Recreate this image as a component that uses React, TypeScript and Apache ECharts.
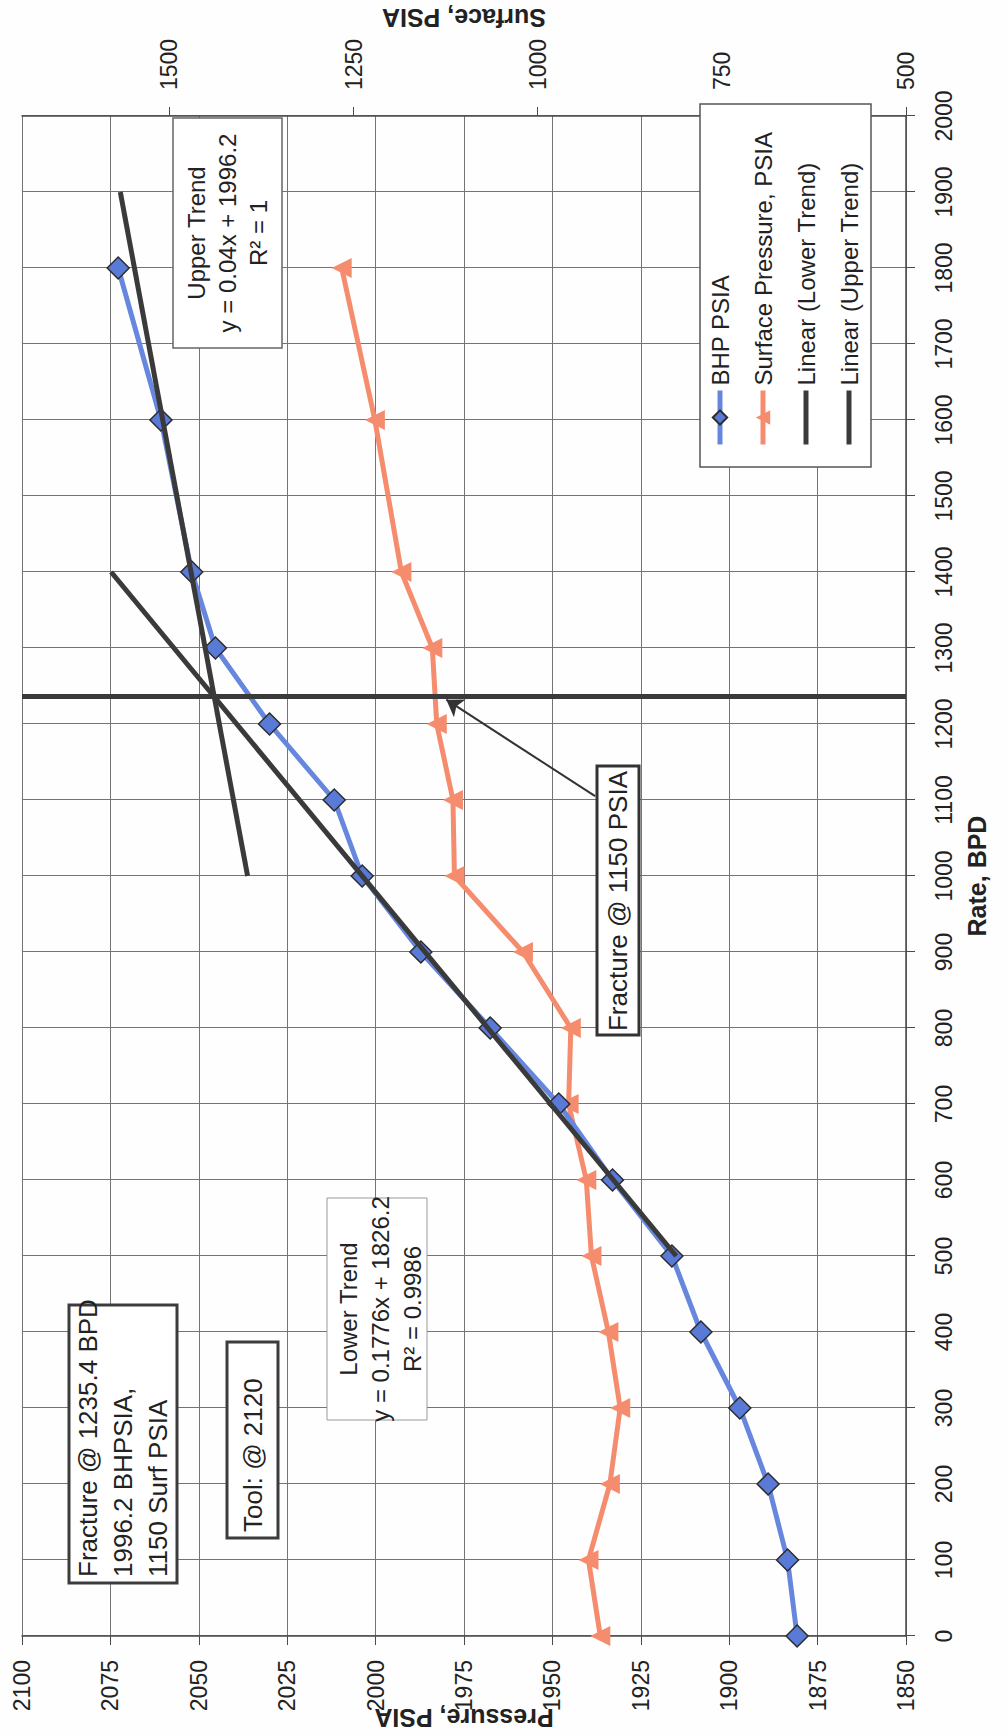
import React, { useEffect, useRef } from "react";
import * as echarts from "echarts";

// ---------- data ----------
const rates = [0, 100, 200, 300, 400, 500, 600, 700, 800, 900, 1000, 1100, 1200, 1300, 1400, 1600, 1800];
const bhpPsia = [1880.8, 1883.5, 1889, 1897, 1908, 1916.2, 1933, 1948.2, 1967.6, 1987.2, 2003.8, 2011.7, 2030, 2045.3, 2052, 2060.7, 2072.8];
const surfacePsia = [915, 931, 902, 888, 904, 927, 934, 958, 955, 1020, 1113, 1115, 1137, 1143, 1185, 1221, 1266];

const lowerTrendRates = [500, 1400];
const lowerTrendPsia = [1915.0, 2074.8];
const upperTrendRates = [1000, 1900];
const upperTrendPsia = [2036.2, 2072.2];

const fractureRate = 1235.4;
const arrowFrom = [1105, 922]; // [rate, surface psia]
const arrowTo = [1232, 1124];

const surfaceTicks = [500, 750, 1000, 1250, 1500];

const seriesNames = ["BHP PSIA", "Surface Pressure, PSIA", "Linear (Lower Trend)", "Linear (Upper Trend)"];

// ---------- styling ----------
const FONT = '"Liberation Sans", Arial, Helvetica, sans-serif';
const TXT = "#222";
const GRID = "#747474";
const AXIS = "#4a4a4a";
const BLUE_LINE = "#6787DE";
const BLUE_FILL = "#5a7ad8";
const ORANGE = "#F58C6E";
const DARK = "#3a3a3a";

const plain = (v: number) => String(v);
const pairs = (xs: number[], ys: number[]) => xs.map((x, i) => [x, ys[i]]);

function textEl(x: number, y: number, text: string, size: number, align: string, lineHeight: number) {
  return {
    type: "text",
    x,
    y,
    z: 20,
    style: {
      text,
      fontFamily: FONT,
      fontSize: size,
      fill: TXT,
      align,
      textAlign: align,
      verticalAlign: "middle",
      textVerticalAlign: "middle",
      lineHeight,
    },
  };
}

function boxEl(x: number, y: number, w: number, h: number, stroke: string, lw: number) {
  return {
    type: "rect",
    z: 19,
    shape: { x, y, width: w, height: h },
    style: { fill: "#ffffff", stroke, lineWidth: lw },
  };
}

const option: any = {
  animation: false,
  backgroundColor: "#fefefe",
  textStyle: { fontFamily: FONT },
  grid: { left: 98, right: 116, top: 22, bottom: 102, containLabel: false, outerBoundsMode: "none" },
  xAxis: {
    type: "value",
    min: 0,
    max: 2000,
    interval: 100,
    position: "bottom",
    name: "Rate, BPD",
    nameLocation: "middle",
    nameGap: 58,
    nameTextStyle: { fontSize: 25, fontWeight: "bold", color: TXT, fontFamily: FONT },
    axisLine: { show: true, lineStyle: { color: AXIS, width: 1.5 } },
    axisTick: { show: true, length: 9, lineStyle: { color: AXIS } },
    axisLabel: { fontSize: 23, color: TXT, margin: 26, fontFamily: FONT, formatter: plain },
    splitLine: { show: true, lineStyle: { color: GRID, width: 1 } },
  },
  yAxis: [
    {
      type: "value",
      min: 1850,
      max: 2100,
      interval: 25,
      position: "left",
      name: "Pressure, PSIA",
      nameLocation: "middle",
      nameRotate: 90,
      nameGap: 69,
      nameMoveOverlap: false,
      nameTextStyle: { fontSize: 25, fontWeight: "bold", color: TXT, fontFamily: FONT },
      axisLine: { show: true, lineStyle: { color: AXIS, width: 1.5 } },
      axisTick: { show: true, length: 9, lineStyle: { color: AXIS } },
      axisLabel: { fontSize: 23, color: TXT, margin: 24, fontFamily: FONT, formatter: plain },
      splitLine: { show: true, lineStyle: { color: GRID, width: 1 } },
    },
    {
      type: "value",
      min: 500,
      max: 1700,
      interval: 250,
      position: "right",
      name: "Surface, PSIA",
      nameLocation: "middle",
      nameRotate: 90,
      nameGap: 86,
      nameMoveOverlap: false,
      nameTextStyle: { fontSize: 25, fontWeight: "bold", color: TXT, fontFamily: FONT },
      axisLine: { show: true, lineStyle: { color: AXIS, width: 1.5 } },
      axisTick: { show: true, length: 9, lineStyle: { color: AXIS }, customValues: surfaceTicks },
      axisLabel: { fontSize: 23, color: TXT, margin: 26, fontFamily: FONT, formatter: plain, customValues: surfaceTicks },
      splitLine: { show: false },
    },
  ],
  legend: {
    orient: "vertical",
    left: 1267,
    top: 700,
    data: [
      { name: seriesNames[0] },
      { name: seriesNames[1] },
      { name: seriesNames[2], itemStyle: { opacity: 0 } },
      { name: seriesNames[3], itemStyle: { opacity: 0 } },
    ],
    backgroundColor: "#ffffff",
    borderColor: "#555",
    borderWidth: 1.5,
    padding: [8, 28, 10, 20],
    itemGap: 19,
    itemWidth: 54,
    itemHeight: 18,
    lineStyle: { width: 5 },
    textStyle: { fontSize: 24, color: TXT, lineHeight: 24, fontFamily: FONT },
    z: 18,
  },
  series: [
    {
      name: seriesNames[0],
      type: "line",
      yAxisIndex: 0,
      data: pairs(rates, bhpPsia),
      symbol: "diamond",
      symbolSize: 22,
      lineStyle: { color: BLUE_LINE, width: 5 },
      itemStyle: { color: BLUE_FILL, borderColor: "#2c2c2c", borderWidth: 1.5 },
      z: 3,
      markLine: {
        silent: true,
        symbol: ["none", "none"],
        label: { show: false },
        lineStyle: { color: DARK, width: 5, type: "solid" },
        data: [{ xAxis: fractureRate }],
      },
    },
    {
      name: seriesNames[1],
      type: "line",
      yAxisIndex: 1,
      data: pairs(rates, surfacePsia),
      symbol: "triangle",
      symbolSize: 20,
      lineStyle: { color: ORANGE, width: 5 },
      itemStyle: { color: ORANGE },
      z: 2,
      markLine: {
        silent: true,
        symbol: ["none", "arrow"],
        symbolSize: 16,
        label: { show: false },
        lineStyle: { color: "#333", width: 2, type: "solid" },
        data: [[{ coord: arrowFrom }, { coord: arrowTo }]],
      },
    },
    {
      name: seriesNames[2],
      type: "line",
      yAxisIndex: 0,
      data: pairs(lowerTrendRates, lowerTrendPsia),
      symbol: "none",
      lineStyle: { color: DARK, width: 5 },
      itemStyle: { color: DARK },
      z: 4,
    },
    {
      name: seriesNames[3],
      type: "line",
      yAxisIndex: 0,
      data: pairs(upperTrendRates, upperTrendPsia),
      symbol: "none",
      lineStyle: { color: DARK, width: 5 },
      itemStyle: { color: DARK },
      z: 4,
    },
  ],
  graphic: [
    boxEl(1386, 173, 230, 109, "#666", 1.5),
    textEl(1501, 227, "Upper Trend\ny = 0.04x + 1996.2\nR² = 1", 24, "center", 31),
    boxEl(314, 327, 222, 100, "#9a9a9a", 1),
    textEl(425, 380, "Lower Trend\ny = 0.1776x + 1826.2\nR² = 0.9986", 24, "center", 32),
    boxEl(699, 597, 269, 42, "#333", 3),
    textEl(833, 618, "Fracture @ 1150 PSIA", 26, "center", 28),
    boxEl(151, 69, 278, 108, "#3c3c3c", 3),
    textEl(157, 123, "Fracture @ 1235.4 BPD\n1996.2 BHPSIA,\n1150 Surf PSIA", 26, "left", 35),
    boxEl(196, 227, 196, 51, "#3c3c3c", 3),
    textEl(202, 253, "Tool: @ 2120", 26, "left", 28),
  ],
};

export default function App() {
  const ref = useRef<HTMLDivElement>(null);
  useEffect(() => {
    if (!ref.current) return;
    const chart = echarts.init(ref.current, null, { renderer: "svg" });
    chart.setOption(option);
    return () => chart.dispose();
  }, []);
  return (
    <div
      style={{
        position: "absolute",
        left: 0,
        top: 0,
        width: 1008,
        height: 1734,
        overflow: "hidden",
        background: "#fefefe",
      }}
    >
      <div
        ref={ref}
        style={{
          position: "absolute",
          left: 0,
          top: 0,
          width: 1734,
          height: 1008,
          transformOrigin: "0 0",
          transform: "translate(0px, 1734px) rotate(-90deg)",
        }}
      />
    </div>
  );
}
